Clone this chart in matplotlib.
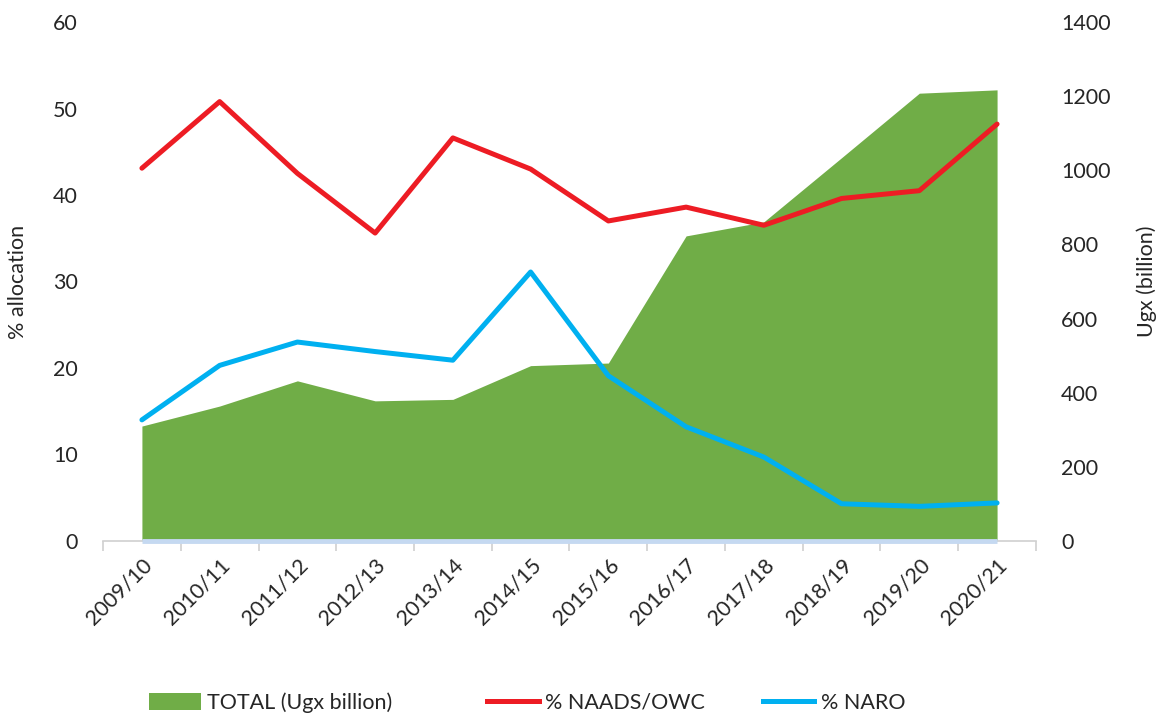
import numpy as np
import matplotlib
matplotlib.use("Agg")
import matplotlib.pyplot as plt
from matplotlib.patches import Patch
from matplotlib.lines import Line2D

plt.rcParams['font.family'] = ['Lato', 'DejaVu Sans']

# Data
years = ["2009/10", "2010/11", "2011/12", "2012/13", "2013/14", "2014/15",
         "2015/16", "2016/17", "2017/18", "2018/19", "2019/20", "2020/21"]
total_ugx = [310, 364, 432, 378, 382, 473, 480, 823, 861, 1034, 1208, 1217]
naads_owc = [43.1, 50.8, 42.5, 35.6, 46.6, 43.0, 37.0, 38.6, 36.5, 39.6, 40.5, 48.2]
naro = [14.0, 20.3, 23.0, 21.9, 20.9, 31.1, 19.1, 13.2, 9.7, 4.3, 4.0, 4.4]
zero_line = [0] * len(years)

GREEN = "#70AD47"
RED = "#ED1C24"
BLUE = "#00B0F0"
TEXT = "#262626"
FS = 15.5

fig = plt.figure(figsize=(11.67, 7.15), dpi=100)
ax = fig.add_axes([0.0883, 0.2434, 0.7994, 0.7258])
ax2 = ax.twinx()

x = np.arange(len(years))

# Area on secondary axis (Ugx billion)
ax2.fill_between(x, 0, total_ugx, color=GREEN, linewidth=0)
ax2.set_ylim(0, 1400)
ax2.set_yticks(range(0, 1401, 200))

# Lines on primary axis (% allocation)
ax.plot(x, zero_line, color="#C5D9F1", lw=3.5, solid_capstyle="butt", zorder=3,
        clip_on=False)
ax.plot(x, naads_owc, color=RED, lw=3.6, solid_capstyle="round", zorder=4)
ax.plot(x, naro, color=BLUE, lw=3.6, solid_capstyle="round", zorder=4)
ax.set_ylim(0, 60)
ax.set_yticks(range(0, 61, 10))
ax.set_xlim(-0.5, len(years) - 0.5)

# Draw lines above the area
ax.set_zorder(ax2.get_zorder() + 1)
ax.patch.set_visible(False)

# Category axis: ticks between categories, labels at centers
ax.set_xticks(x)
ax.set_xticklabels(years, rotation=45, ha="right", rotation_mode="anchor",
                   fontsize=FS, color=TEXT)
ax.set_xticks(np.arange(-0.5, len(years)), minor=True)
ax.tick_params(axis="x", which="major", length=0, pad=10)
ax.tick_params(axis="x", which="minor", length=7, width=1.2, color="#D0D0D0")

ax.tick_params(axis="y", length=0, pad=18, labelsize=FS, labelcolor=TEXT)
ax2.tick_params(axis="y", length=0, pad=18, labelsize=FS, labelcolor=TEXT)

for a in (ax, ax2):
    for s in ("top", "left", "right"):
        a.spines[s].set_visible(False)
ax.spines["bottom"].set_color("#D0D0D0")
ax.spines["bottom"].set_linewidth(1.2)
ax2.spines["bottom"].set_visible(False)

ax.set_ylabel("% allocation", fontsize=FS, color=TEXT)
ax.yaxis.set_label_coords(-0.08, 0.5)
ax2.set_ylabel("Ugx (billion)", fontsize=FS, color=TEXT, rotation=90)
ax2.yaxis.set_label_coords(1.108, 0.5)

# Legend entries placed individually
legend_items = [
    (Patch(facecolor=GREEN, edgecolor="none"), "TOTAL (Ugx billion)", 0.111),
    (Line2D([0], [0], color=RED, lw=3.6), "% NAADS/OWC", 0.401),
    (Line2D([0], [0], color=BLUE, lw=3.6), "% NARO", 0.637),
]
for handle, label, xpos in legend_items:
    fig.legend([handle], [label], loc="center left", bbox_to_anchor=(xpos, 0.017),
               frameon=False, fontsize=FS, handlelength=2.4, handleheight=0.85,
               handletextpad=0.3, labelcolor=TEXT)

fig.savefig("out.png", dpi=100)
